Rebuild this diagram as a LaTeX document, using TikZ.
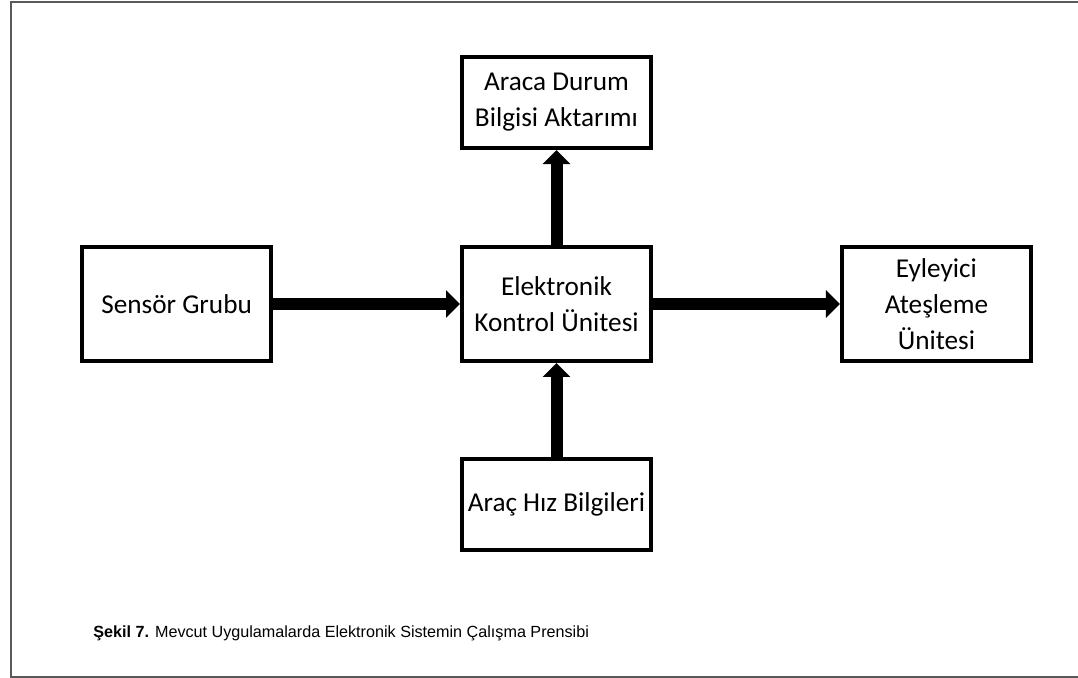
\documentclass[tikz,border=0pt]{standalone}
\usepackage{fontspec}
\setmainfont{Carlito}
\newfontfamily\capfont{Liberation Sans}
\usetikzlibrary{positioning,arrows.meta}

\tikzset{
    blok/.style={draw, line width=0.08cm, align=center,
        minimum width=3.78cm,
        font=\fontsize{15.5pt}{20.5pt}\selectfont},
    okbig/.style={line width=0.24cm,
        -{Triangle[width=0.54cm,length=0.28cm]}}
}

\begin{document}
\begin{tikzpicture}[x=0.02cm, y=-0.02cm, node distance=3.74cm]
    \useasboundingbox (0,0) rectangle (1078,678);
    % frame
    \draw[gray!70!black, line width=0.04cm] (11,2) rectangle (1100,677);
    % controller
    \node [blok,
        minimum height=2.28cm
    ]  (EKU) at (556.5,304) {Elektronik\\Kontrol Ünitesi};
    \node [blok,
        minimum height=2.28cm,
        left=of EKU
    ]  (Sensor) {Sensör Grubu};
    \node [blok,
        minimum height=2.28cm,
        right=of EKU
    ]  (Eyleyici) {Eyleyici\\Ateşleme\\Ünitesi};
    \node [blok,
        minimum height=1.82cm,
        above=1.9cm of EKU
    ]  (Araca) {Araca Durum\\Bilgisi Aktarımı};
    \node [blok,
        minimum height=1.82cm,
        below=1.88cm of EKU
    ]  (Hiz) {Araç Hız Bilgileri};
    % arrows
    \draw [okbig] (Sensor) -- (EKU);
    \draw [okbig] (EKU) -- (Eyleyici);
    \draw [okbig] (EKU) -- (Araca);
    \draw [okbig] (Hiz) -- (EKU);
    % caption
    \node [anchor=west, inner sep=0pt, font=\capfont\fontsize{9.2pt}{11pt}\selectfont]
        (Sekil) at (93,633) {\textbf{Şekil 7.} Mevcut Uygulamalarda Elektronik Sistemin Çalışma Prensibi};
\end{tikzpicture}
\end{document}
